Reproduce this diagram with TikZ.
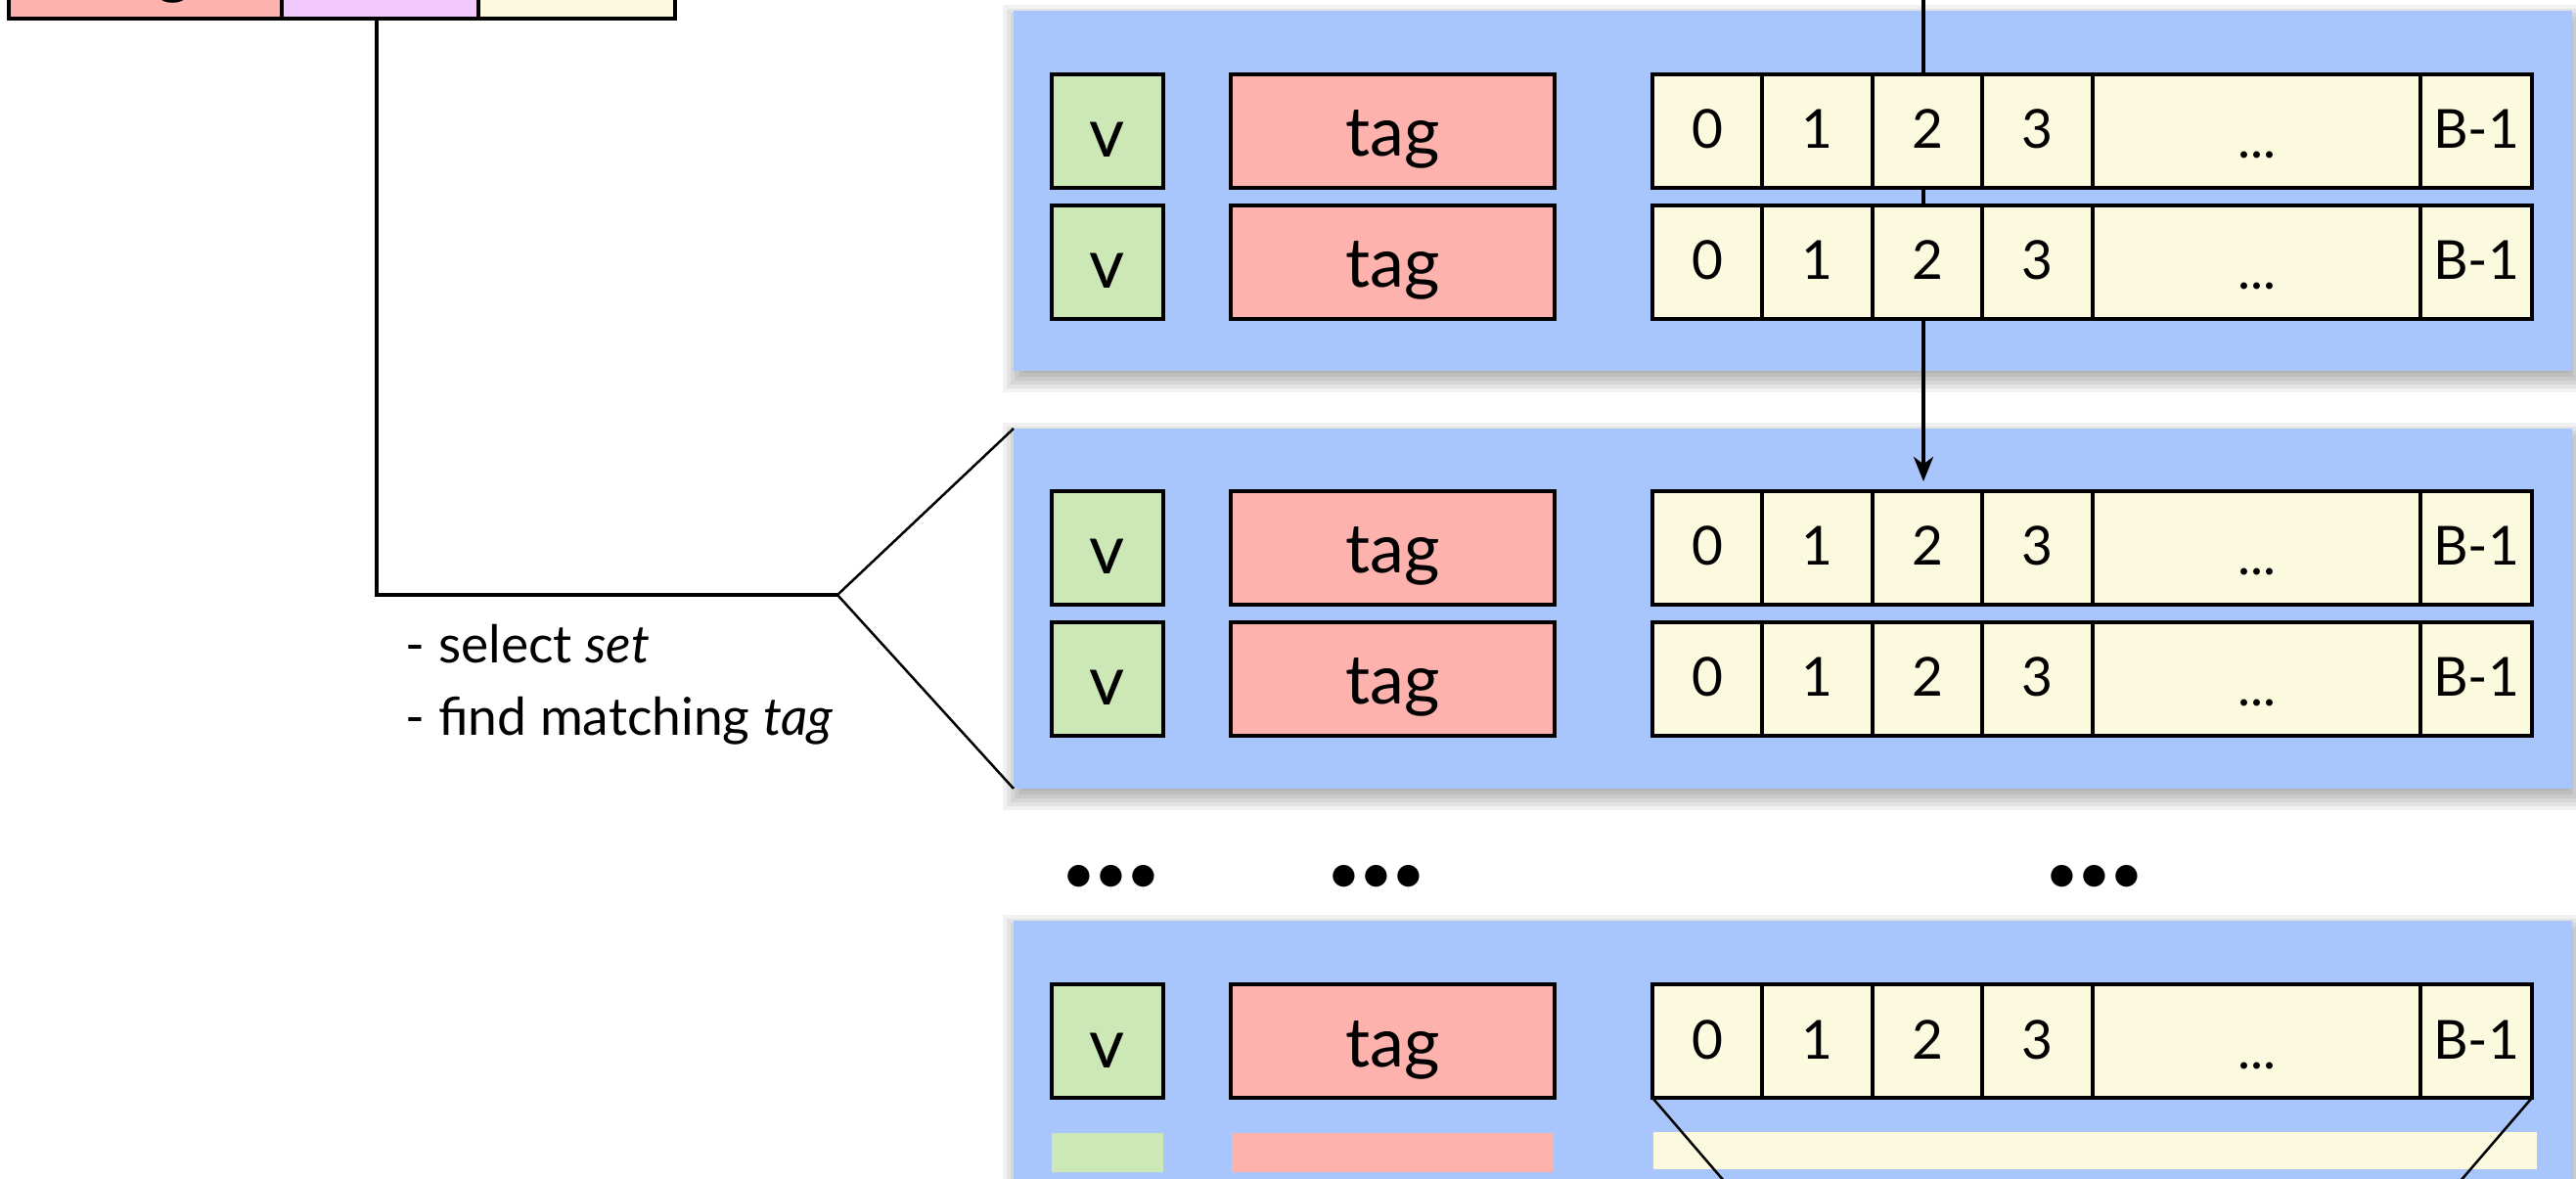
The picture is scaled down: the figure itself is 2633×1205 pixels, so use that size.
\documentclass[tikz,border=0pt]{standalone}
\usepackage{fontspec}
\setmainfont{Lato}
\usetikzlibrary{arrows.meta,calc}
\definecolor{panelblue}{RGB}{168,197,252}
\definecolor{tagpink}{RGB}{253,178,174}
\definecolor{vgreen}{RGB}{205,232,183}
\definecolor{blkyellow}{RGB}{251,250,222}
\definecolor{offpurple}{RGB}{240,200,252}
\def\u{0.3pt}
\tikzset{
  cellbase/.style={draw=black, line width=1.35pt, inner sep=0pt, outer sep=0pt, minimum height=116*\u},
  vcell/.style={cellbase, fill=vgreen, minimum width=114*\u},
  tagcell/.style={cellbase, fill=tagpink, minimum width=331*\u},
  blkcell/.style={cellbase, fill=blkyellow},
  offcell/.style={cellbase, fill=offpurple},
  panel/.style={fill=panelblue, inner sep=0pt, outer sep=0pt, minimum width=1593*\u, minimum height=368*\u, anchor=north west},
  bigtxt/.style={inner sep=0pt, font=\fontsize{21}{25}\selectfont},
  numtxt/.style={inner sep=0pt, font=\fontsize{16.5}{20}\selectfont},
  notetxt/.style={inner sep=0pt, font=\fontsize{16}{19}\selectfont, anchor=base west},
  moredots/.style={inner sep=0pt, font=\fontsize{18}{18}\selectfont},
  conn/.style={draw=black, line width=1.2pt},
  thinconn/.style={draw=black, line width=0.75pt},
  bar/.style={inner sep=0pt, outer sep=0pt, anchor=north west}
}
\newcommand\panelshadow[4]{%
  \foreach \k in {0,...,7}{%
    \pgfmathsetmacro\infl{14-4*\k}%
    \fill[black,opacity=0.055] ({#1+3-\infl},{#2+8-\infl}) rectangle ({#3+3+\infl},{#4+8+\infl});
  }%
}
\newcommand\cacheline[2]{%
  \node[vcell,anchor=north west] (#1v) at (1075,#2) {};
  \node[bigtxt,anchor=base] (#1vt) at ($(#1v.north)+(0,85)$) {v};
  \node[tagcell,anchor=north west] (#1t) at (1258,#2) {};
  \node[bigtxt,anchor=base] (#1tt) at ($(#1t.north)+(0,84)$) {tag};
  \node[blkcell,minimum width=112*\u,anchor=north west] (#1b0) at (1689,#2) {};
  \node[blkcell,minimum width=113*\u,anchor=north west] (#1b1) at (1801,#2) {};
  \node[blkcell,minimum width=112*\u,anchor=north west] (#1b2) at (1914,#2) {};
  \node[blkcell,minimum width=113*\u,anchor=north west] (#1b3) at (2026,#2) {};
  \node[blkcell,minimum width=335*\u,anchor=north west] (#1b4) at (2139,#2) {};
  \node[blkcell,minimum width=114*\u,anchor=north west] (#1b5) at (2474,#2) {};
  \node[numtxt,anchor=base] (#1n0) at ($(#1b0.north)+(0,76)$) {0};
  \node[numtxt,anchor=base] (#1n1) at ($(#1b1.north)+(0,76)$) {1};
  \node[numtxt,anchor=base] (#1n2) at ($(#1b2.north)+(0,76)$) {2};
  \node[numtxt,anchor=base] (#1n3) at ($(#1b3.north)+(0,76)$) {3};
  \node[numtxt,anchor=base] (#1n4) at ($(#1b4.north)+(0,86)$) {...};
  \node[numtxt,anchor=base] (#1n5) at ($(#1b5.north)+(0,76)$) {B-1};
}
\begin{document}
\begin{tikzpicture}[x=0.3pt,y=-0.3pt]
\clip (0,0) rectangle (2633,1205);
\fill[white] (0,0) rectangle (2633,1205);

% top-left address box (cut by the top edge)
\node[offcell, minimum width=279*\u, minimum height=200*\u, anchor=south west, fill=tagpink] (tltag) at (9,19) {};
\node[offcell, minimum width=201*\u, minimum height=200*\u, anchor=south west] (tlset) at (288,19) {};
\node[blkcell, minimum width=201*\u, minimum height=200*\u, anchor=south west] (tloff) at (489,19) {};
\node[bigtxt, anchor=base] (tltagt) at (148,-9) {tag};

% shadows and panels
\panelshadow{1036}{11}{2629}{379}
\panelshadow{1036}{438}{2629}{806}
\panelshadow{1036}{941}{2629}{1309}
\node[panel] (p1) at (1036,11) {};
\node[panel] (p2) at (1036,438) {};
\node[panel] (p3) at (1036,941) {};

% connector from the address box
\coordinate (fork) at (856,608);
\draw[conn] ($(tlset.south)+(-4,0)$) |- (fork);
\draw[thinconn] (p2.north west) -- (fork) -- (p2.south west);

% arrow coming from above
\coordinate (arrsrc) at (1966,-60);
\coordinate (arrtip) at (1966,492);
\draw[draw=black, line width=1pt, -{Stealth[length=7.5pt,width=6pt,inset=2.2pt]}] (arrsrc) -- (arrtip);

% rows
\cacheline{ra}{76}
\cacheline{rb}{210}
\cacheline{rc}{502}
\cacheline{rd}{636}
\cacheline{re}{1006}

% notes
\node[notetxt] (sel) at (414,678) {- select \textit{set}};
\node[notetxt] (find) at (414,752) {- find matching \textit{tag}};

% ellipsis between panels
\node[moredots] (dots1) at (1136,899) {•\kern-0.65pt•\kern-0.65pt•};
\node[moredots] (dots2) at (1407,899) {•\kern-0.65pt•\kern-0.65pt•};
\node[moredots] (dots3) at (2141,899) {•\kern-0.65pt•\kern-0.65pt•};

% partial zoomed line at the bottom
\node[bar, fill=vgreen, minimum width=114*\u, minimum height=40*\u] (zv) at (1075,1158) {};
\node[bar, fill=tagpink, minimum width=329*\u, minimum height=40*\u] (zt) at (1259,1158) {};
\node[bar, fill=blkyellow, minimum width=903*\u, minimum height=38*\u] (zb) at (1690,1157) {};
\coordinate (zl) at (1769,1215);
\coordinate (zr) at (2508,1215);
\draw[thinconn] (reb0.south west) -- (zl);
\draw[thinconn] (reb5.south east) -- (zr);
\end{tikzpicture}
\end{document}
